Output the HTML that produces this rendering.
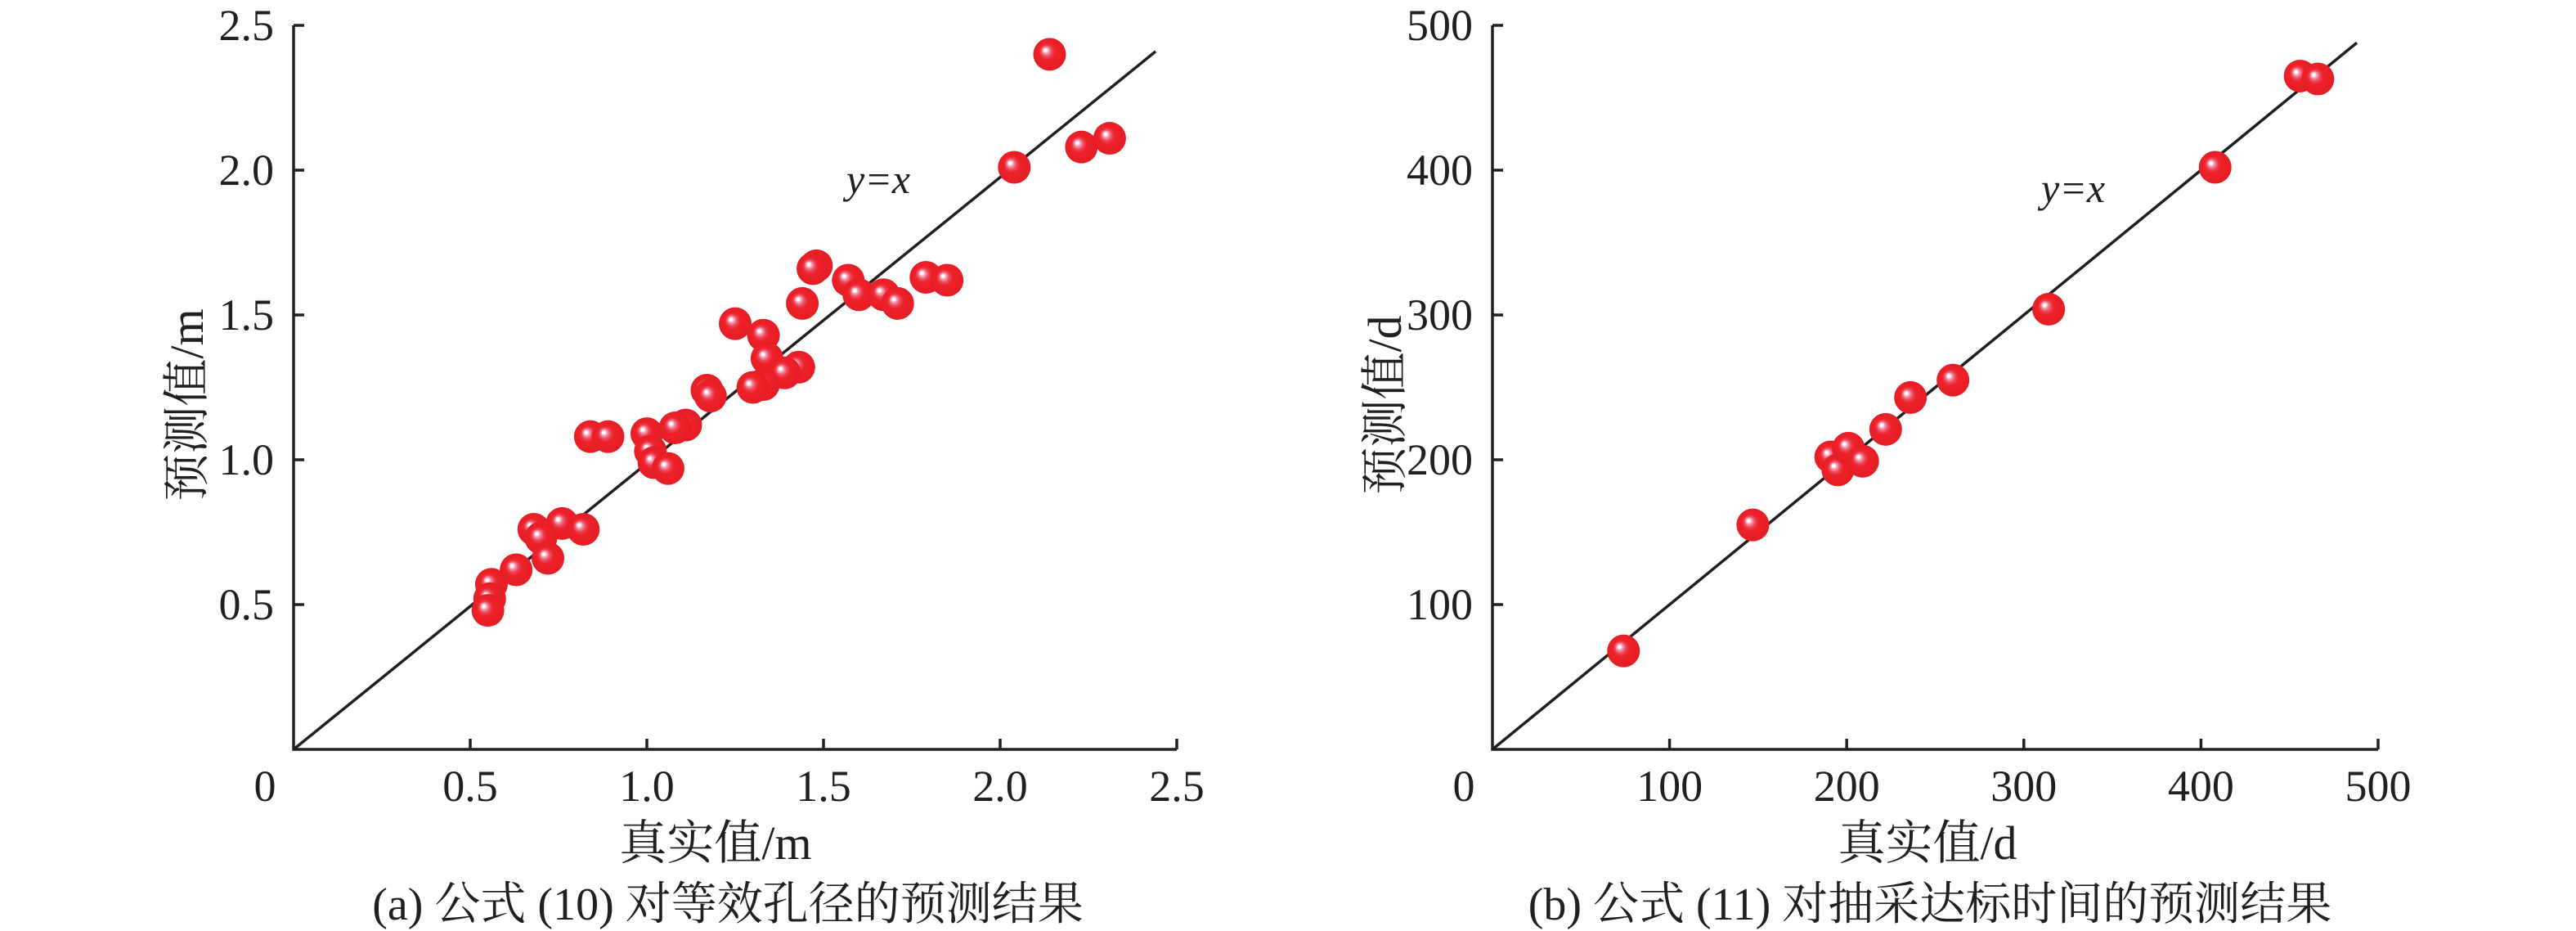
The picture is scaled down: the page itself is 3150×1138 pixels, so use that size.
<!DOCTYPE html>
<html><head><meta charset="utf-8">
<style>
html,body{margin:0;padding:0;background:#fff;}
svg{display:block;}
text{fill:#231f20;font-family:"Liberation Serif","Noto Serif CJK SC",serif;}
</style></head>
<body>
<svg id="fig" width="3150" height="1138" viewBox="0 0 3150 1138" xmlns="http://www.w3.org/2000/svg">
<defs>
<radialGradient id="ball" cx="0.5" cy="0.5" r="0.55" fx="0.36" fy="0.36">
<stop offset="0" stop-color="#ffffff"/>
<stop offset="0.08" stop-color="#ffffff"/>
<stop offset="0.16" stop-color="#f6a3b4"/>
<stop offset="0.3" stop-color="#ec4a62"/>
<stop offset="0.45" stop-color="#ee2229"/>
<stop offset="1" stop-color="#e41c24"/>
</radialGradient>
</defs>
<g id="chartA"></g>
<g id="chartB"></g>
</svg>
<script>
// Chart (a) data
const aTicksX = ["0.5","1.0","1.5","2.0","2.5"];
const aTickValsX = [0.5,1.0,1.5,2.0,2.5];
const aTicksY = ["0.5","1.0","1.5","2.0","2.5"];
const aTickValsY = [0.5,1.0,1.5,2.0,2.5];
const aActual = [2.14,2.31,2.23,2.04,1.48,1.47,1.57,1.60,1.67,1.71,1.79,1.85,1.44,1.25,1.33,1.34,1.43,1.39,1.33,1.30,1.17,1.18,1.11,1.08,1.00,1.01,1.02,1.06,0.84,0.89,0.68,0.76,0.82,0.70,0.72,0.63,0.56,0.555,0.55];
const aPredicted = [2.40,2.11,2.08,2.01,1.67,1.66,1.62,1.57,1.57,1.54,1.63,1.62,1.54,1.47,1.43,1.35,1.32,1.30,1.26,1.25,1.24,1.22,1.12,1.11,1.09,1.03,0.99,0.97,1.08,1.08,0.76,0.78,0.76,0.73,0.66,0.62,0.57,0.52,0.48];
const aLineEnd = [2.44,2.41];
// Chart (b) data
const bTicksX = ["100","200","300","400","500"];
const bTickValsX = [100,200,300,400,500];
const bTicksY = ["100","200","300","400","500"];
const bTickValsY = [100,200,300,400,500];
const bActual = [74,147,191,195,201,209,222,236,260,314,408,456,466];
const bPredicted = [68,155,202,193,208,199,221,243,255,304,402,465,463];
const bLineEnd = [488,488];

const NS="http://www.w3.org/2000/svg";
function mk(parent,tag,attrs,txt){const e=document.createElementNS(NS,tag);for(const k in attrs)e.setAttribute(k,attrs[k]);if(txt!==undefined)e.textContent=txt;parent.appendChild(e);return e;}

function draw(g,cfg){
  const sx=v=>cfg.x0+(v-cfg.xmin)/(cfg.xmax-cfg.xmin)*(cfg.x1-cfg.x0);
  const sy=v=>cfg.y0-(v-cfg.ymin)/(cfg.ymax-cfg.ymin)*(cfg.y0-cfg.y1);
  const ax=mk(g,'path',{d:`M${cfg.x0},${cfg.y1} V${cfg.y0} H${cfg.x1}`,fill:'none',stroke:'#231f20','stroke-width':3.5});
  
  
  cfg.tvx.forEach((v,i)=>{
    const t=mk(g,'line',{x1:sx(v),x2:sx(v),y1:cfg.y0,y2:cfg.y0-13,stroke:'#231f20','stroke-width':3.5});
    
    
    const l=mk(g,'text',{x:sx(v),y:979,'font-size':54,'text-anchor':'middle'},cfg.tx[i]);
    
    
  });
  cfg.tvy.forEach((v,i)=>{
    const t=mk(g,'line',{x1:cfg.x0,x2:cfg.x0+13,y1:sy(v),y2:sy(v),stroke:'#231f20','stroke-width':3.5});
    
    
    const l=mk(g,'text',{x:cfg.x0-24,y:sy(v)+18,'font-size':54,'text-anchor':'end'},cfg.ty[i]);
    
    
  });
  const z=mk(g,'text',{x:cfg.x0-35,y:979,'font-size':54,'text-anchor':'middle'},'0');
  
  
  const ln=mk(g,'line',{x1:sx(0),y1:sy(0),x2:sx(cfg.le[0]),y2:sy(cfg.le[1]),stroke:'#231f20','stroke-width':3.5});
  
  
  const lt=mk(g,'text',{x:cfg.lblx,y:cfg.lbly,'font-size':50,'font-style':'italic'},'y=x');
  
  
  cfg.xs.forEach((v,i)=>{
    const c=mk(g,'circle',{cx:sx(v),cy:sy(cfg.ys[i]),r:20,fill:'url(#ball)'});
    
    
  });
  const xt=mk(g,'text',{x:cfg.xtx,y:1050,'font-size':58,'text-anchor':'middle'},cfg.xtitle);
  
  
  const yt=mk(g,'text',{x:0,y:0,'font-size':58,'text-anchor':'middle',transform:`translate(${cfg.ytx},495) rotate(-90)`},cfg.ytitle);
  
  
  const cp=mk(g,'text',{x:cfg.capx,y:1124,'font-size':56,'text-anchor':'middle'},cfg.cap);
  
  
}
draw(document.getElementById('chartA'),{x0:359,x1:1439,xmin:0,xmax:2.5,y0:916,y1:31,ymin:0,ymax:2.5,
  tx:aTicksX,tvx:aTickValsX,ty:aTicksY,tvy:aTickValsY,xs:aActual,ys:aPredicted,le:aLineEnd,
  lblx:1035,lbly:236,xtx:875,xtitle:'真实值/m',ytx:248,ytitle:'预测值/m',capx:890,cap:'(a) 公式 (10) 对等效孔径的预测结果'});
draw(document.getElementById('chartB'),{x0:1825,x1:2908,xmin:0,xmax:500,y0:916,y1:31,ymin:0,ymax:500,
  tx:bTicksX,tvx:bTickValsX,ty:bTicksY,tvy:bTickValsY,xs:bActual,ys:bPredicted,le:bLineEnd,
  lblx:2496,lbly:247,xtx:2357,xtitle:'真实值/d',ytx:1713,ytitle:'预测值/d',capx:2360,cap:'(b) 公式 (11) 对抽采达标时间的预测结果'});
</script>
</body></html>
